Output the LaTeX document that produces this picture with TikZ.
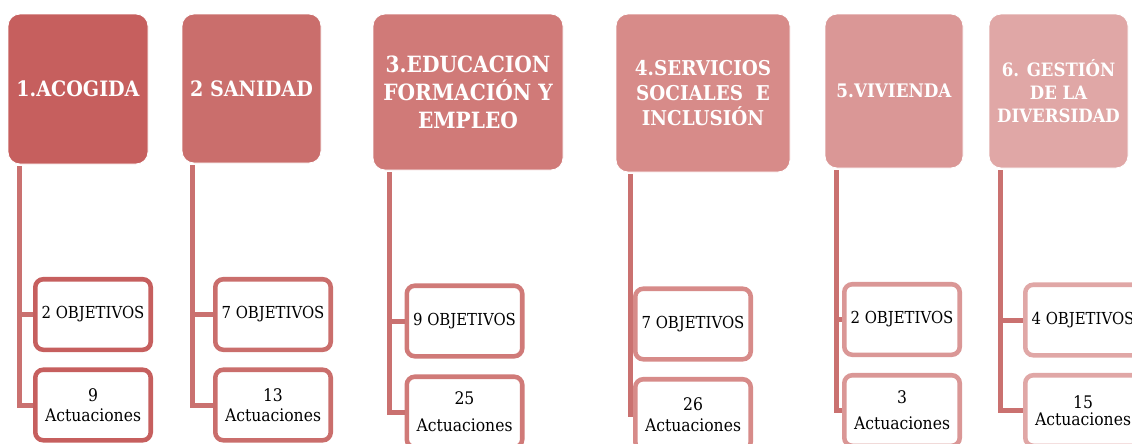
\documentclass[tikz,border=0pt]{standalone}
\usepackage{fontspec}
\setmainfont{DejaVu Serif Condensed}
\usetikzlibrary{calc}
\definecolor{cA}{HTML}{C65F5E}
\definecolor{cB}{HTML}{CA6E6C}
\definecolor{cC}{HTML}{D07A78}
\definecolor{cD}{HTML}{D78B89}
\definecolor{cE}{HTML}{DA9796}
\definecolor{cF}{HTML}{E0A7A6}
\definecolor{lineC}{HTML}{CA7170}
\tikzset{
  head/.style={fill=#1, draw=white, line width=0.6pt, rounded corners=9pt,
    text=white, align=center, inner sep=0pt},
  hsize/.style 2 args={font=\bfseries\fontsize{#1}{#2}\selectfont},
  kid/.style={draw=#1, fill=white, line width=3.4pt, rounded corners=6pt,
    minimum width=86.6pt, minimum height=52.9pt, align=center, inner sep=0pt, text=black},
  obj/.style={font=\fontsize{12.4}{15}\selectfont},
  act/.style={font=\fontsize{13}{#1}\selectfont},
  conn/.style={draw=lineC, line width=3.75pt}
}
\begin{document}
\begin{tikzpicture}[x=0.75pt,y=-0.75pt]
\useasboundingbox (0,0) rectangle (1132,443);
\clip (0,0) rectangle (1132,443);
% headers
\node[head=cA, hsize={15.9}{21}, minimum width=105pt, minimum height=112.5pt] (h1) at (78,89) {1.ACOGIDA};
\node[head=cB, hsize={15.9}{21}, minimum width=104.25pt, minimum height=111.75pt] (h2) at (251.5,88.5) {2 SANIDAD};
\node[head=cC, hsize={16.8}{21}, minimum width=142.5pt, minimum height=117pt] (h3) at (468,92) {3.EDUCACION\\FORMACIÓN Y\\EMPLEO};
\node[head=cD, hsize={15.3}{19}, minimum width=130.5pt, minimum height=118.5pt] (h4) at (703,93) {4.SERVICIOS\\SOCIALES\ \ E\\INCLUSIÓN};
\node[head=cE, hsize={14}{18}, minimum width=103.5pt, minimum height=115.5pt] (h5) at (894,91) {5.VIVIENDA};
\node[head=cF, hsize={13.8}{17}, minimum width=104.25pt, minimum height=115.5pt] (h6) at (1058.5,91) {6. GESTIÓN\\DE LA\\DIVERSIDAD};
% child boxes
\node[kid=cA, obj] (o1) at (93,314.5) {2 OBJETIVOS};
\node[kid=cA, act={15}] (a1) at (93,405) {9\\Actuaciones};
\node[kid=cB, obj] (o2) at (273,314.5) {7 OBJETIVOS};
\node[kid=cB, act={15}] (a2) at (273,405) {13\\Actuaciones};
\node[kid=cC, obj] (o3) at (464.5,321) {9 OBJETIVOS};
\node[kid=cC, act={20}] (a3) at (464.5,412) {25\\Actuaciones};
\node[kid=cD, obj] (o4) at (693,324) {7 OBJETIVOS};
\node[kid=cD, act={16}] (a4) at (693,414.5) {26\\Actuaciones};
\node[kid=cE, obj] (o5) at (902,319.5) {2 OBJETIVOS};
\node[kid=cE, act={19.5}] (a5) at (902,410.5) {3\\Actuaciones};
\node[kid=cF, obj] (o6) at (1083,320) {4 OBJETIVOS};
\node[kid=cF, act={13}] (a6) at (1083,410.5) {15\\Actuaciones};
% connectors
\coordinate (t1) at ($(h1.south west)+(12,2)$);
\coordinate (t2) at ($(h2.south west)+(11,2)$);
\coordinate (t3) at ($(h3.south west)+(17,2)$);
\coordinate (t4) at ($(h4.south west)+(15,2)$);
\coordinate (t5) at ($(h5.south west)+(12,2)$);
\coordinate (t6) at ($(h6.south west)+(12,2)$);
\foreach \i in {1,...,6}{
  \draw[conn] (t\i) |- (a\i.west);
  \draw[conn] (t\i |- o\i.west) -- (o\i.west);
}
\end{tikzpicture}
\end{document}
